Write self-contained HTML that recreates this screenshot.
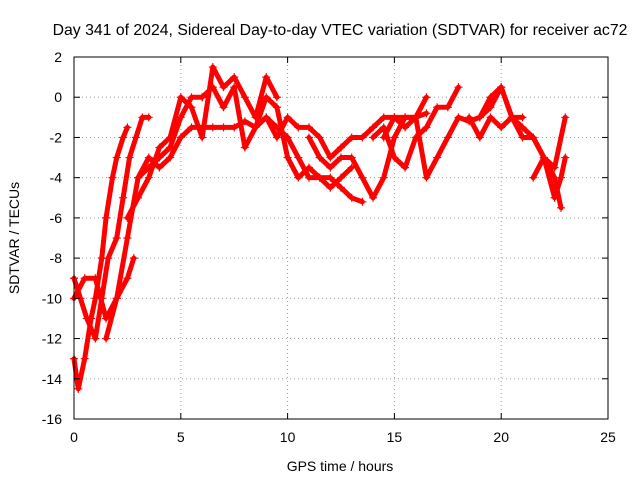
<!DOCTYPE html>
<html><head><meta charset="utf-8"><style>
body{margin:0;background:#fff;}
svg{display:block;font-family:"Liberation Sans",sans-serif;}
</style></head><body>
<svg id="chart" width="640" height="480">
<text x="340" y="35" font-size="15.8" text-anchor="middle">Day 341 of 2024, Sidereal Day-to-day VTEC variation (SDTVAR) for receiver ac72</text>
<text x="340" y="471" font-size="14" text-anchor="middle">GPS time / hours</text>
<text transform="translate(19,238) rotate(-90)" font-size="14" text-anchor="middle">SDTVAR / TECUs</text>
<g id="grid"></g><g id="series"></g><g id="axes"></g>
</svg>
<script>
const xTicks=[0,5,10,15,20,25];
const yTicks=[2,0,-2,-4,-6,-8,-10,-12,-14,-16];
const tA=[0,0.2,0.5,0.8,1.0,1.3,1.5,1.8,2.0,2.3,2.5], vA=[-13,-14.5,-13,-11,-10,-8,-6,-4,-3,-2,-1.5];
const tB=[0,0.3,0.6,1,1.3,1.6,2,2.3,2.6,2.9,3.2,3.5], vB=[-9,-10,-11,-12,-10,-8,-7,-5,-3,-2,-1,-1];
const tC=[0,0.5,1,1.5,2,2.5,2.8], vC=[-10,-9,-9,-11,-10,-9,-8];
const tD=[1.5,2,2.5,3,3.5,4,4.5,5,5.5,6,6.5,7,7.5,8,8.5,9,9.5,10], vD=[-12,-10,-7,-4,-3,-3.5,-3,-2,-1.5,-1.5,-1.5,-1.5,-1.5,-1.2,-1.5,-1,-1.5,-2];
const tE=[2.5,3,3.5,4,4.5,5,5.5,6,6.5,7,7.5,8,8.5,9,9.5], vE=[-6,-5,-4,-2.5,-2,0,-0.5,-2,1.5,0.5,1,0,-1,1,0];
const tF=[3,3.5,4,4.5,5,5.5,6], vF=[-4,-3.5,-3,-2.5,-1,0,0];
const tG=[6,6.5,7,7.5,8,8.5,9,9.5,10,10.5,11,11.5,12,12.5,13], vG=[0,0.5,-0.5,0.5,-2.5,-1.5,0,-0.5,-3,-4,-3.5,-4,-4.5,-4,-3.5];
const tH=[9,9.5,10,10.5,11,11.5,12,12.5,13,13.5,14,14.5,15,15.5,16,16.5], vH=[-1,-2,-1,-1.5,-1.5,-2,-3,-2.5,-2,-2,-1.5,-1,-1,-1.5,-1,0];
const tI=[10,10.5,11,11.5,12,12.5,13,13.5], vI=[-2,-3,-4,-4,-4,-4.5,-5,-5.2];
const tJ=[11,11.5,12,12.5,13,13.5,14,14.5,15,15.5,16,16.5], vJ=[-2,-3,-3.5,-3,-3,-4,-5,-4,-2,-1,-1,-0.8];
const tK=[14,14.5,15,15.5,16,16.5,17,17.5,18], vK=[-2,-1.5,-3,-3.5,-2,-1.5,-0.5,-0.5,0.5];
const tL=[14.5,15,15.5,16,16.5,17,17.5,18,18.5,19,19.5,20,20.5,21], vL=[-2,-1,-1,-1,-4,-3,-2,-1,-1.2,-1,-0.5,0.5,-1,-1];
const tM=[18.5,19,19.5,20,20.5,21,21.5,22,22.5,23], vM=[-1,-2,-1,-1.5,-1,-2,-2,-3,-3.5,-1];
const tN=[19,19.5,20,20.5,21,21.5,22,22.5,22.8,23], vN=[-1,0,0.5,-1,-1.5,-2,-3,-5,-4,-3];
const tO=[21.5,22,22.5,22.8], vO=[-4,-3,-4,-5.5];
const tracks=[[tA,vA],[tB,vB],[tC,vC],[tD,vD],[tE,vE],[tF,vF],[tG,vG],[tH,vH],[tI,vI],[tJ,vJ],[tK,vK],[tL,vL],[tM,vM],[tN,vN],[tO,vO]];
const L=74,R=608,T=57,B=419;
const X=t=>L+(t-0)/25*(R-L);
const Y=v=>T+(2-v)/18*(B-T);
const NS="http://www.w3.org/2000/svg";
function mk(tag,parent,attrs){const e=document.createElementNS(NS,tag);for(const k in attrs)e.setAttribute(k,attrs[k]);parent.appendChild(e);return e;}
const grid=document.getElementById('grid'),axes=document.getElementById('axes'),ser=document.getElementById('series');
xTicks.forEach(t=>{
 const x=X(t);
 if(t>0&&t<25){const g=mk('line',grid,{x1:x,x2:x,y1:T,y2:B,stroke:'#a0a0a0','stroke-dasharray':'1,3'});}
 mk('line',axes,{x1:x,x2:x,y1:B,y2:B-6,stroke:'#000'});mk('line',axes,{x1:x,x2:x,y1:T,y2:T+6,stroke:'#000'});
 const tx=mk('text',axes,{x:x,y:B+23,'font-size':14,'text-anchor':'middle'});tx.textContent=t;
 
 
});
yTicks.forEach(v=>{
 const y=Y(v);
 if(v<2&&v>-16){const g=mk('line',grid,{x1:L,x2:R,y1:y,y2:y,stroke:'#a0a0a0','stroke-dasharray':'1,3'});}
 mk('line',axes,{x1:L,x2:L+6,y1:y,y2:y,stroke:'#000'});mk('line',axes,{x1:R,x2:R-6,y1:y,y2:y,stroke:'#000'});
 const tx=mk('text',axes,{x:L-12,y:y+5,'font-size':14,'text-anchor':'end'});tx.textContent=v;
 
 
});
const frame=mk('rect',axes,{x:L,y:T,width:R-L,height:B-T,fill:'none',stroke:'#000'});


tracks.forEach(([ts,vs],i)=>{
 const pts=ts.map((t,j)=>X(t)+','+Y(vs[j])).join(' ');
 const pl=mk('polyline',ser,{points:pts,fill:'none',stroke:'#ff0000','stroke-width':5,'stroke-linejoin':'round','stroke-linecap':'round'});
 
 
 ts.forEach((t,j)=>{
  const x=X(t),y=Y(vs[j]);
  const p=mk('path',ser,{d:`M${x-4},${y}H${x+4}M${x},${y-4}V${y+4}`,stroke:'#ff0000','stroke-width':1.2});
  
  
 });
});
</script>
</body></html>
